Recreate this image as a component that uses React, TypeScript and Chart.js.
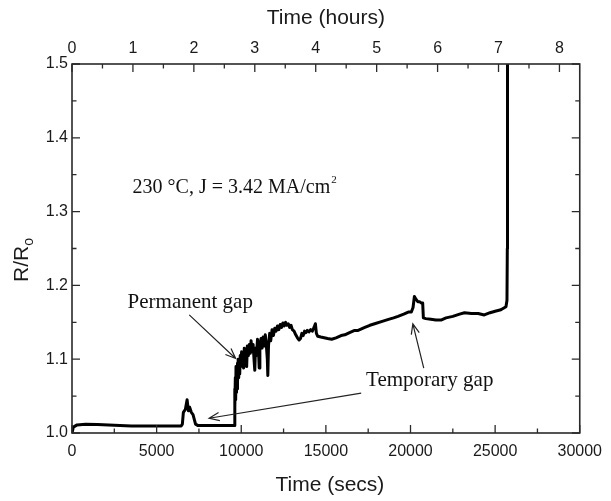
import React, { useEffect, useRef } from "react";
import { Chart, registerables } from "chart.js";

Chart.register(...registerables);

// ---- Data ----
const timeSecs: number[] = [
  // flat start and first (temporary) bump
  0, 80, 300, 800, 1500, 2500, 3500, 4500, 5500, 6450,
  6520, 6580, 6700, 6800, 6880, 6950, 7050, 7150, 7300, 7450, 8500, 9550,
  // noisy rise after the permanent gap
  9600, 9610, 9630, 9650, 9670, 9690, 9710, 9730, 9750, 9770,
  9790, 9820, 9850, 9880, 9910, 9940, 9980, 10020, 10060, 10100,
  10140, 10180, 10230, 10280, 10320, 10360, 10420, 10480, 10530, 10580,
  10640, 10700, 10760, 10800, 10840, 10900, 10960, 11020, 11060, 11100,
  11170, 11230, 11290, 11350, 11420, 11480, 11540, 11570, 11610, 11680,
  11740, 11820, 11900, 11980, 12060, 12140, 12220, 12300, 12380, 12460,
  12540, 12620, 12700, 12780, 12860, 12940, 13020, 13120, 13220, 13320,
  13420, 13500, 13580, 13660, 13740, 13820, 13900, 14000, 14100, 14200,
  14300, 14380, 14440, 14520,
  // slow rise, second bump, final failure
  14700, 14900, 15100, 15340, 15600, 15900, 16120, 16400, 16700, 16905,
  17300, 17600, 17883, 18280, 18700, 19000, 19260, 19600, 19900, 20050,
  20150, 20230, 20330, 20430, 20530, 20650, 20720, 20760, 20900, 21200,
  21500, 21800, 22100, 22500, 22900, 23190, 23600, 24000, 24360, 24700,
  25000, 25340, 25640, 25700, 25720, 25730, 25735,
];

const ratio: number[] = [
  1.0, 1.008, 1.011, 1.012, 1.0115, 1.0105, 1.0095, 1.0095, 1.0095, 1.0095,
  1.012, 1.028, 1.032, 1.045, 1.03, 1.035, 1.028, 1.025, 1.012, 1.01, 1.01, 1.01,
  1.01, 1.06, 1.035, 1.075, 1.045, 1.09, 1.055, 1.08, 1.06, 1.095,
  1.07, 1.1, 1.075, 1.095, 1.08, 1.105, 1.09, 1.11, 1.095, 1.105,
  1.088, 1.115, 1.1, 1.112, 1.09, 1.118, 1.105, 1.12, 1.108, 1.125,
  1.11, 1.12, 1.098, 1.085, 1.115, 1.105, 1.127, 1.112, 1.088, 1.12,
  1.128, 1.115, 1.13, 1.118, 1.133, 1.12, 1.1, 1.078, 1.118, 1.135,
  1.125, 1.14, 1.132, 1.142, 1.138, 1.145, 1.14, 1.147, 1.143, 1.149,
  1.145, 1.15, 1.146, 1.148, 1.143, 1.146, 1.14, 1.138, 1.133, 1.129,
  1.126, 1.128, 1.135, 1.132, 1.138, 1.136, 1.139, 1.137, 1.14, 1.138,
  1.143, 1.148, 1.135, 1.131,
  1.13, 1.129, 1.128, 1.127, 1.129, 1.132, 1.133, 1.136, 1.139, 1.139,
  1.143, 1.146, 1.148, 1.151, 1.154, 1.156, 1.158, 1.161, 1.164, 1.164,
  1.17, 1.185, 1.181, 1.178, 1.178, 1.176, 1.176, 1.156, 1.155, 1.154,
  1.153, 1.153, 1.156, 1.158, 1.161, 1.163, 1.162, 1.162, 1.16, 1.163,
  1.165, 1.167, 1.171, 1.18, 1.25, 1.5, 1.55,
];

const xMinSecs = 0;
const xMaxSecs = 30000;
const xMajorStepSecs = 5000;
const xMinorStepSecs = 2500;
const hoursMajorStep = 1;
const hoursMinorStep = 0.5;
const yMin = 1.0;
const yMax = 1.5;
const yMajorStep = 0.1;
const yMinorStep = 0.05;

const conditionText = "230 °C, J = 3.42 MA/cm";
const permanentLabel = "Permanent gap";
const temporaryLabel = "Temporary gap";

// annotation anchors in data units (seconds, R/Ro)
const conditionAnchor = { x: 3581, y: 1.332 };
const permanentAnchor = { x: 6986, y: 1.1775 };
const temporaryAnchor = { x: 21135, y: 1.0718 };
const arrows = [
  { from: { x: 6928, y: 1.16 }, to: { x: 9670, y: 1.101 } },
  { from: { x: 17085, y: 1.054 }, to: { x: 8102, y: 1.02 } },
  { from: { x: 20783, y: 1.088 }, to: { x: 20138, y: 1.148 } },
];

const SANS = "'Liberation Sans', Arial, Helvetica, sans-serif";
const SERIF = "'Liberation Serif', 'Times New Roman', serif";
const AXIS_COLOR = "#2a2a2a";

const framePlugin = {
  id: "framePlugin",
  afterDraw(chart: any) {
    const ctx = chart.ctx as CanvasRenderingContext2D;
    const { left, right, top, bottom } = chart.chartArea;
    const xs = chart.scales.x;
    const ys = chart.scales.y;
    const xh = chart.scales.x2;
    ctx.save();
    // frame
    ctx.strokeStyle = AXIS_COLOR;
    ctx.lineWidth = 1.6;
    ctx.strokeRect(left, top, right - left, bottom - top);

    ctx.lineWidth = 1.3;
    const major = 8;
    const minor = 4.5;
    // bottom ticks
    for (let v = xMinSecs; v <= xMaxSecs + 1e-6; v += xMinorStepSecs) {
      const px = xs.getPixelForValue(v);
      const len = Math.abs(v % xMajorStepSecs) < 1e-6 ? major : minor;
      ctx.beginPath();
      ctx.moveTo(px, bottom);
      ctx.lineTo(px, bottom - len);
      ctx.stroke();
    }
    // top ticks (hours)
    for (let h = 0; h <= xh.max + 1e-6; h += hoursMinorStep) {
      const px = xh.getPixelForValue(h);
      const len = Math.abs(h % hoursMajorStep) < 1e-6 ? major : minor;
      ctx.beginPath();
      ctx.moveTo(px, top);
      ctx.lineTo(px, top + len);
      ctx.stroke();
    }
    // left & right ticks
    for (let i = 0; i <= Math.round((yMax - yMin) / yMinorStep); i++) {
      const v = yMin + i * yMinorStep;
      const py = ys.getPixelForValue(v);
      const len = i % 2 === 0 ? major : minor;
      ctx.beginPath();
      ctx.moveTo(left, py);
      ctx.lineTo(left + len, py);
      ctx.moveTo(right, py);
      ctx.lineTo(right - len, py);
      ctx.stroke();
    }

    // axis titles
    ctx.fillStyle = "#1a1a1a";
    ctx.font = `21px ${SANS}`;
    ctx.textAlign = "center";
    ctx.textBaseline = "middle";
    ctx.fillText("Time (hours)", (left + right) / 2, 18);
    ctx.fillText("Time (secs)", (left + right) / 2 + 4, 485);

    // y title R/Ro (rotated, subscript o)
    ctx.save();
    ctx.translate(22, 260);
    ctx.rotate(-Math.PI / 2);
    ctx.font = `21px ${SANS}`;
    const main = "R/R";
    const wMain = ctx.measureText(main).width;
    ctx.font = `14px ${SANS}`;
    const wSub = ctx.measureText("o").width;
    const total = wMain + wSub;
    ctx.textAlign = "left";
    ctx.font = `21px ${SANS}`;
    ctx.fillText(main, -total / 2, 0);
    ctx.font = `14px ${SANS}`;
    ctx.fillText("o", -total / 2 + wMain, 7);
    ctx.restore();

    // annotations
    ctx.fillStyle = "#111";
    ctx.font = `20px ${SERIF}`;
    ctx.textAlign = "left";
    ctx.textBaseline = "middle";
    const cx = xs.getPixelForValue(conditionAnchor.x);
    const cy = ys.getPixelForValue(conditionAnchor.y);
    ctx.fillText(conditionText, cx, cy);
    const cw = ctx.measureText(conditionText).width;
    ctx.font = `11px ${SERIF}`;
    ctx.fillText("2", cx + cw + 1, cy - 8);

    ctx.font = `21px ${SERIF}`;
    ctx.textAlign = "center";
    ctx.fillText(
      permanentLabel,
      xs.getPixelForValue(permanentAnchor.x),
      ys.getPixelForValue(permanentAnchor.y)
    );
    ctx.fillText(
      temporaryLabel,
      xs.getPixelForValue(temporaryAnchor.x),
      ys.getPixelForValue(temporaryAnchor.y)
    );

    ctx.strokeStyle = "#222";
    ctx.lineWidth = 1.2;
    for (const a of arrows) {
      const x1 = xs.getPixelForValue(a.from.x);
      const y1 = ys.getPixelForValue(a.from.y);
      const x2 = xs.getPixelForValue(a.to.x);
      const y2 = ys.getPixelForValue(a.to.y);
      const ang = Math.atan2(y2 - y1, x2 - x1);
      const head = 11;
      const spread = 0.38;
      ctx.beginPath();
      ctx.moveTo(x1, y1);
      ctx.lineTo(x2, y2);
      ctx.moveTo(x2 - head * Math.cos(ang - spread), y2 - head * Math.sin(ang - spread));
      ctx.lineTo(x2, y2);
      ctx.lineTo(x2 - head * Math.cos(ang + spread), y2 - head * Math.sin(ang + spread));
      ctx.stroke();
    }
    ctx.restore();
  },
};

export default function App() {
  const canvasRef = useRef<HTMLCanvasElement | null>(null);

  useEffect(() => {
    const canvas = canvasRef.current;
    if (!canvas) return;
    const points = timeSecs.map((t, i) => ({ x: t, y: ratio[i] }));
    const tickFont = { family: SANS, size: 16 };
    const chart = new Chart(canvas, {
      type: "line",
      data: {
        datasets: [
          {
            data: points,
            borderColor: "#000",
            borderWidth: 3,
            borderJoinStyle: "round",
            pointRadius: 0,
            tension: 0,
            fill: false,
            xAxisID: "x",
            yAxisID: "y",
          },
        ],
      },
      options: {
        responsive: false,
        animation: false,
        devicePixelRatio: 1,
        layout: { padding: { left: 0, right: 29, top: 0, bottom: 0 } },
        plugins: {
          legend: { display: false },
          tooltip: { enabled: false },
        },
        scales: {
          x: {
            type: "linear",
            position: "bottom",
            min: xMinSecs,
            max: xMaxSecs,
            grid: { display: false, drawTicks: false },
            border: { display: false },
            ticks: {
              stepSize: xMajorStepSecs,
              autoSkip: false,
              maxRotation: 0,
              padding: 9,
              color: "#1a1a1a",
              font: tickFont,
              callback: (v: any) => String(v),
            },
            afterFit: (s: any) => {
              s.height = 68;
            },
          },
          x2: {
            type: "linear",
            position: "top",
            min: xMinSecs / 3600,
            max: xMaxSecs / 3600,
            grid: { display: false, drawTicks: false },
            border: { display: false },
            ticks: {
              stepSize: hoursMajorStep,
              includeBounds: false,
              autoSkip: false,
              maxRotation: 0,
              padding: 6,
              color: "#1a1a1a",
              font: tickFont,
              callback: (v: any) =>
                Math.abs(v - Math.round(v)) < 1e-6 ? String(Math.round(v)) : "",
            },
            afterFit: (s: any) => {
              s.height = 64;
            },
          },
          y: {
            type: "linear",
            position: "left",
            min: yMin,
            max: yMax,
            grid: { display: false, drawTicks: false },
            border: { display: false },
            ticks: {
              stepSize: yMajorStep,
              autoSkip: false,
              padding: 4,
              color: "#1a1a1a",
              font: tickFont,
              callback: (v: any) => Number(v).toFixed(1),
            },
            afterFit: (s: any) => {
              s.width = 72;
            },
          },
        },
      } as any,
      plugins: [framePlugin],
    });
    return () => chart.destroy();
  }, []);

  return (
    <div style={{ position: "absolute", left: 0, top: 0, width: 611, height: 501, background: "#fff" }}>
      <canvas ref={canvasRef} width={611} height={501} />
    </div>
  );
}
